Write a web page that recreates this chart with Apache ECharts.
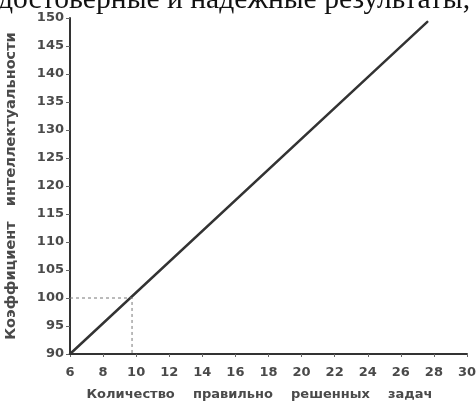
<!DOCTYPE html>
<html><head><meta charset="utf-8">
<script src="https://cdn.jsdelivr.net/npm/echarts@6/dist/echarts.min.js"></script>
<style>html,body{margin:0;padding:0;background:#fff}#c{width:476px;height:410px}</style>
</head><body><div id="c"></div>
<script>
const xTitle = 'Количество    правильно    решенных    задач';
const yTitle = 'Коэффициент   интеллектуальности';
const headerText = 'достоверные и надежные результаты,';
const lineData = [[6, 90], [27.6, 149.3]];
const guideData = [[6, 100], [9.75, 100], [9.75, 90]];
const xMin = 6, xMax = 30, xStep = 2;
const yMin = 90, yMax = 150, yStep = 5;

const chart = echarts.init(document.getElementById('c'));
chart.setOption({
  animation: false,
  backgroundColor: '#fff',
  grid: {left: 70, right: 9, top: 18, bottom: 56, outerBoundsMode: 'none', containLabel: false},
  graphic: [{
    type: 'text', left: -2, top: -15,
    style: {text: headerText, font: '29.6px "Liberation Serif"', fill: '#111'}
  }],
  xAxis: {
    type: 'value', min: xMin, max: xMax, interval: xStep,
    name: xTitle, nameLocation: 'middle', nameGap: 34,
    nameTextStyle: {fontFamily: 'DejaVu Sans', fontWeight: 'bold', fontSize: 13, color: '#4a4a4a', padding: [0, 18, 0, 0]},
    axisLine: {lineStyle: {color: '#333', width: 2}},
    axisTick: {show: true, length: 3, lineStyle: {color: '#666'}},
    axisLabel: {fontFamily: 'DejaVu Sans', fontWeight: 'bold', fontSize: 13, color: '#4a4a4a', margin: 12},
    splitLine: {show: false}
  },
  yAxis: {
    type: 'value', min: yMin, max: yMax, interval: yStep,
    name: yTitle, nameLocation: 'middle', nameGap: 51,
    nameTextStyle: {fontFamily: 'DejaVu Sans', fontWeight: 'bold', fontSize: 14.5, color: '#4a4a4a'},
    axisLine: {show: true, lineStyle: {color: '#333', width: 2}},
    axisTick: {show: true, length: 4, lineStyle: {color: '#666'}},
    axisLabel: {fontFamily: 'DejaVu Sans', fontWeight: 'bold', fontSize: 13, color: '#4a4a4a', margin: 6},
    splitLine: {show: false}
  },
  series: [{
    type: 'line', data: lineData, symbol: 'none',
    lineStyle: {color: '#333', width: 2.5, cap: 'round'}
  }, {
    type: 'line', data: guideData, symbol: 'none',
    lineStyle: {color: '#777', width: 1, type: [3, 3]}
  }]
});
</script></body></html>
